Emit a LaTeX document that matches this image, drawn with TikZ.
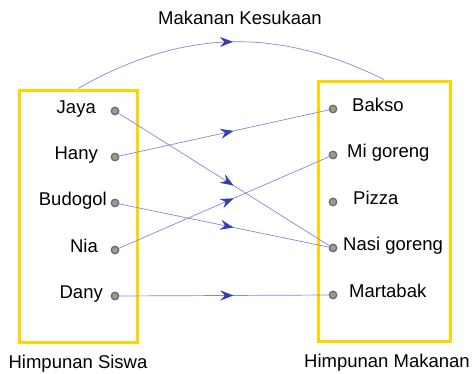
\documentclass[tikz,border=0pt]{standalone}
\usepackage{fontspec}
\setmainfont{Liberation Sans}
\usetikzlibrary{positioning,arrows.meta,decorations.markings}
\definecolor{boxyellow}{RGB}{255,214,0}
\definecolor{linkblue}{RGB}{135,135,215}
\definecolor{tipblue}{RGB}{55,60,170}
\definecolor{dotolive}{RGB}{160,160,95}
\definecolor{dotblue}{RGB}{90,95,175}
\begin{document}
\begin{tikzpicture}[x=1pt,y=-1pt,
  font=\fontsize{18.5}{22}\selectfont,
  setbox/.style={draw=boxyellow,line width=3pt,minimum width=118pt,minimum height=252pt,inner sep=0pt},
  elem/.style={circle,draw=dotblue,fill=dotolive,line width=1.2pt,minimum size=7.5pt,inner sep=0pt},
  lbl/.style={inner sep=0pt},
  mapto/.style={draw=linkblue,line width=0.7pt,postaction={decorate},
    decoration={markings,mark=at position #1 with {\arrow[color=tipblue]{Stealth[length=13pt,width=10pt,inset=4.5pt]}}}},
  mapto/.default=0.545]

\useasboundingbox (0,0) rectangle (474,373);

\node (siswa) [setbox] at (78,216) {};
\node (makanan) [setbox,minimum width=132pt,minimum height=260pt] at (384,211) {};

\node (jaya) [elem] at (115,111) {};
\node (hany) [elem] at (115,157) {};
\node (budogol) [elem] at (115,203) {};
\node (nia) [elem] at (115,250) {};
\node (dany) [elem] at (115,296) {};

\node (bakso) [elem] at (333,109) {};
\node (migoreng) [elem] at (333,155) {};
\node (pizza) [elem] at (333,202) {};
\node (nasigoreng) [elem] at (333,248) {};
\node (martabak) [elem] at (333,295) {};

\node (jayalbl) [lbl,anchor=base east] at (96,113) {Jaya};
\node (hanylbl) [lbl,anchor=base east] at (98,159) {Hany};
\node (budogollbl) [lbl,anchor=base east] at (107,205) {Budogol};
\node (nialbl) [lbl,anchor=base east] at (98,252) {Nia};
\node (danylbl) [lbl,anchor=base east] at (103,298) {Dany};

\node (baksolbl) [lbl,anchor=base west] at (352,111) {Bakso};
\node (migorenglbl) [lbl,anchor=base west] at (347,157) {Mi goreng};
\node (pizzalbl) [lbl,anchor=base west] at (353,204) {Pizza};
\node (nasigorenglbl) [lbl,anchor=base west] at (343,250) {Nasi goreng};
\node (martabaklbl) [lbl,anchor=base west] at (349,297) {Martabak};

\node (judul) [lbl,anchor=base] at (240,24) {Makanan Kesukaan};
\node (siswalbl) [lbl,anchor=base] at (78,368) {Himpunan Siswa};
\node (makananlbl) [lbl,anchor=base] at (387,367) {Himpunan Makanan};

\draw[mapto=0.51] (siswa.north) to[bend left=28] (makanan.north);

\draw[mapto] (jaya) -- (nasigoreng);
\draw[mapto] (hany) -- (bakso);
\draw[mapto] (budogol) -- (nasigoreng);
\draw[mapto] (nia) -- (migoreng);
\draw[mapto] (dany) -- (martabak);

\end{tikzpicture}
\end{document}
